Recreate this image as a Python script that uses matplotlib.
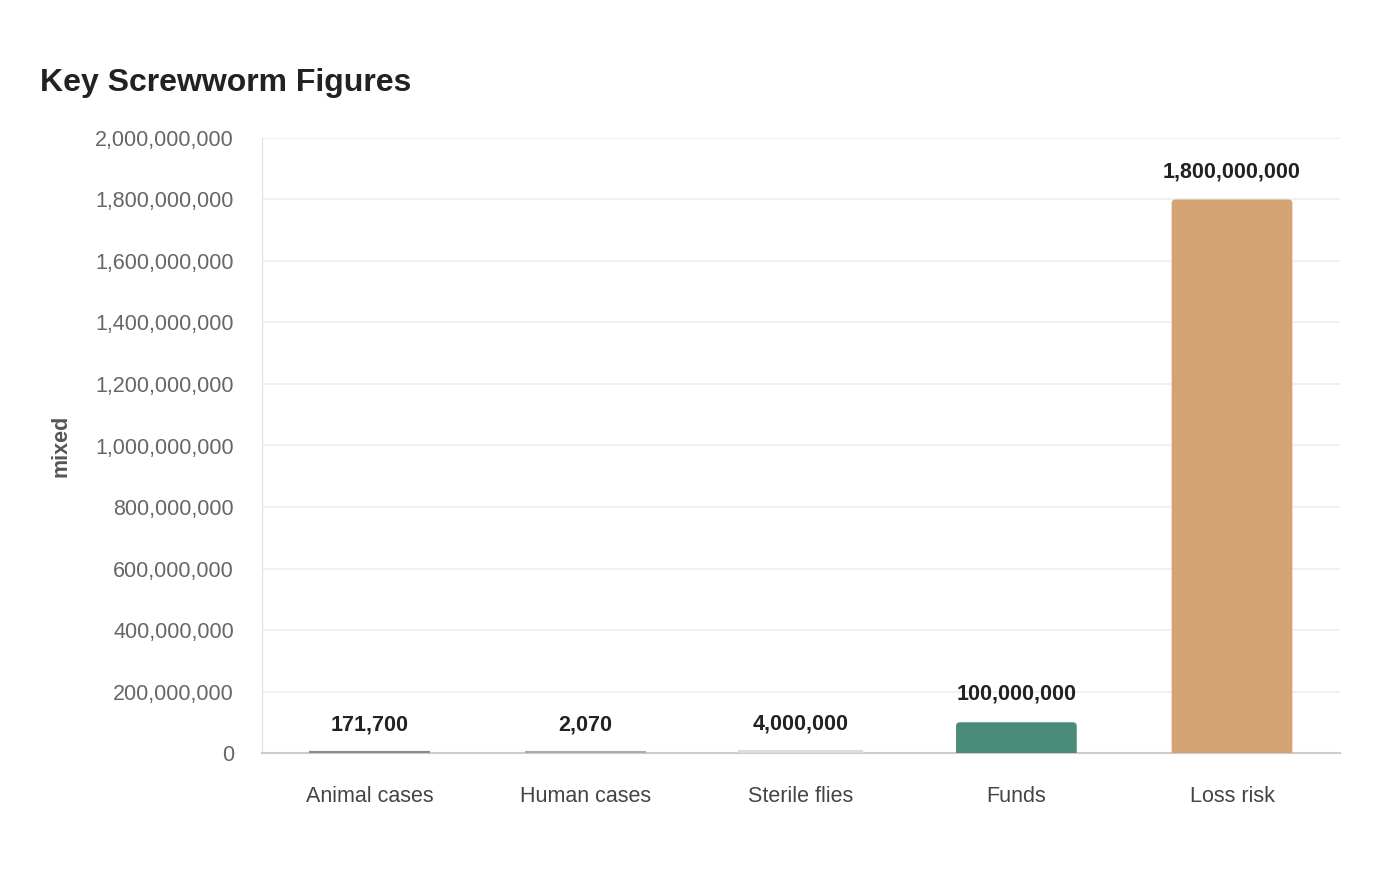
import matplotlib.pyplot as plt
from matplotlib.patches import FancyBboxPatch
from matplotlib.ticker import FuncFormatter, MultipleLocator

plt.rcParams['font.family'] = ['Liberation Sans', 'DejaVu Sans']

categories = ['Animal cases', 'Human cases', 'Sterile flies', 'Funds', 'Loss risk']
values = [171700, 2070, 4000000, 100000000, 1800000000]
colors = ['#8a8a8a', '#ababab', '#dddddd', '#4a8b7a', '#d4a373']

fig = plt.figure(figsize=(14, 8.8), dpi=100)
ax = fig.add_axes([0.187, 0.1443, 0.770, 0.6989])

ax.set_ylim(0, 2000000000)
ax.set_xlim(-0.5, len(categories) - 0.5)

x = list(range(len(categories)))
bars = ax.bar(x, values, width=0.56, color=colors, edgecolor=colors, linewidth=3, zorder=3)

#round top corners of the tall bars (about 4 px)
rx = 0.0186
ry = 1.3e7
for b, c in zip(bars, colors):
    h = b.get_height()
    if h > 3 * ry:
        b.set_visible(False)
        p = FancyBboxPatch((b.get_x(), -ry), b.get_width(), h + ry,
                           boxstyle=f'round,pad=0,rounding_size={rx}',
                           mutation_aspect=ry / rx, facecolor=c, edgecolor='none', zorder=3)
        ax.add_patch(p)

#value labels above each bar
for i, v in enumerate(values):
    ax.annotate(f'{v:,}', (i, v), xytext=(0, 20), textcoords='offset points',
                ha='center', va='center', fontsize=15.5, fontweight='bold', color='#222222')

ax.yaxis.set_major_locator(MultipleLocator(200000000))
ax.yaxis.set_major_formatter(FuncFormatter(lambda v, p: f'{int(v):,}'))
ax.set_xticks(x)
ax.set_xticklabels(categories)

ax.grid(axis='y', color='#eeeeee', linewidth=1.2, zorder=0)
for s in ['top', 'right']:
    ax.spines[s].set_visible(False)
ax.spines['left'].set_color('#e0e0e0')
ax.spines['bottom'].set_color('#cccccc')
ax.spines['bottom'].set_linewidth(1.5)

ax.tick_params(axis='y', length=0, pad=20, labelsize=15.5, labelcolor='#666666')
ax.tick_params(axis='x', length=0, pad=23.5, labelsize=15.5, labelcolor='#444444')

ax.set_ylabel('mixed', fontsize=15.5, fontweight='bold', color='#555555', labelpad=17)

fig.text(0.0286, 0.906, 'Key Screwworm Figures', fontsize=23, fontweight='bold',
         color='#222222', va='center', ha='left')

fig.savefig('out.png', dpi=100, facecolor='white')
